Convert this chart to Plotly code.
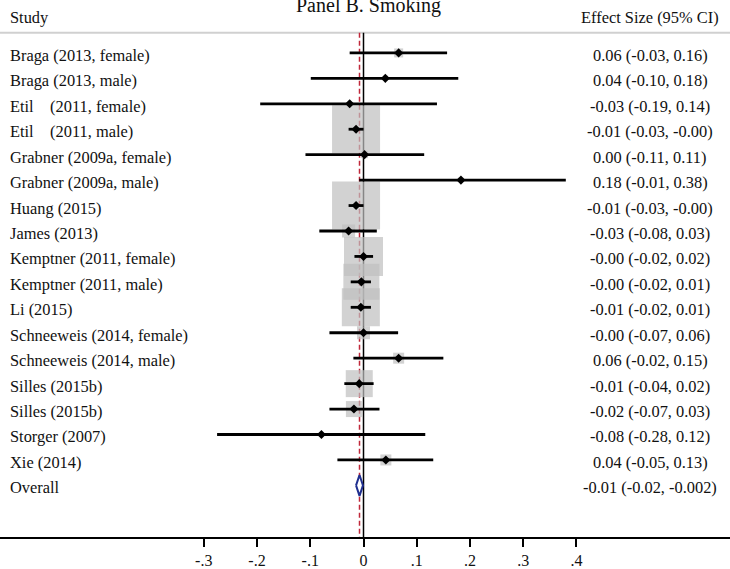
import plotly.graph_objects as go

# ---------------- data ----------------
studies = [
    "Braga (2013, female)", "Braga (2013, male)",
    "Etil\u00a0\u00a0\u00a0\u00a0(2011, female)", "Etil\u00a0\u00a0\u00a0\u00a0(2011, male)",
    "Grabner (2009a, female)", "Grabner (2009a, male)",
    "Huang (2015)", "James (2013)",
    "Kemptner (2011, female)", "Kemptner (2011, male)",
    "Li (2015)",
    "Schneeweis (2014, female)", "Schneeweis (2014, male)",
    "Silles (2015b)", "Silles (2015b)",
    "Storger (2007)", "Xie (2014)",
]
effect = [0.066, 0.041, -0.026, -0.014, 0.002, 0.183, -0.014, -0.028,
          0.000, -0.004, -0.005, 0.000, 0.066, -0.008, -0.018, -0.079, 0.042]
ci_low = [-0.026, -0.099, -0.194, -0.028, -0.109, -0.008, -0.028, -0.083,
          -0.017, -0.024, -0.024, -0.064, -0.019, -0.036, -0.064, -0.275, -0.049]
ci_high = [0.157, 0.178, 0.138, 0.000, 0.114, 0.380, 0.000, 0.025,
           0.018, 0.014, 0.014, 0.065, 0.150, 0.019, 0.030, 0.116, 0.131]
weights = [9, 5, 4, 48, 7, 5, 48, 13, 39, 36, 38, 13, 11, 27, 16, 3, 11]  # box size
es_text = [
    "0.06 (-0.03, 0.16)", "0.04 (-0.10, 0.18)", "-0.03 (-0.19, 0.14)",
    "-0.01 (-0.03, -0.00)", "0.00 (-0.11, 0.11)", "0.18 (-0.01, 0.38)",
    "-0.01 (-0.03, -0.00)", "-0.03 (-0.08, 0.03)", "-0.00 (-0.02, 0.02)",
    "-0.00 (-0.02, 0.01)", "-0.01 (-0.02, 0.01)", "-0.00 (-0.07, 0.06)",
    "0.06 (-0.02, 0.15)", "-0.01 (-0.04, 0.02)", "-0.02 (-0.07, 0.03)",
    "-0.08 (-0.28, 0.12)", "0.04 (-0.05, 0.13)",
]
overall_label = "Overall"
overall_effect = -0.0075
overall_low = -0.014
overall_high = -0.001
overall_text = "-0.01 (-0.02, -0.002)"

tick_vals = [-0.3, -0.2, -0.1, 0, 0.1, 0.2, 0.3, 0.4]
tick_text = ["-.3", "-.2", "-.1", "0", ".1", ".2", ".3", ".4"]

title_text = "Panel B. Smoking"
header_left = "Study"
header_right = "Effect Size (95% CI)"

# ---------------- figure ----------------
W, H = 730, 569
FONT = "Liberation Serif, Times New Roman, serif"
rows = list(range(len(studies)))
overall_row = len(studies)

row_px0 = 53.3
row_step = 25.63
axis_px = 541
text_shift = 2.5 / row_step   # text sits slightly lower than the marks


def px_to_row(p):
    return (p - row_px0) / row_step


fig = go.Figure()

# weight boxes
fig.add_trace(go.Scatter(
    x=effect, y=rows, mode="markers",
    marker=dict(symbol="square", size=weights, color="#bfbfbf",
                line=dict(width=0)),
    hoverinfo="skip", showlegend=False))

# confidence intervals
ci_x, ci_y = [], []
for lo, hi, r in zip(ci_low, ci_high, rows):
    ci_x += [lo, hi, None]
    ci_y += [r, r, None]
fig.add_trace(go.Scatter(
    x=ci_x, y=ci_y, mode="lines",
    line=dict(color="black", width=2.8),
    hoverinfo="skip", showlegend=False))

# point estimates
fig.add_trace(go.Scatter(
    x=effect, y=rows, mode="markers",
    marker=dict(symbol="diamond", size=7, color="black"),
    hoverinfo="skip", showlegend=False))

# overall diamond
dh = 10.5 / row_step
fig.add_trace(go.Scatter(
    x=[overall_low, overall_effect, overall_high, overall_effect, overall_low],
    y=[overall_row, overall_row - dh, overall_row, overall_row + dh, overall_row],
    mode="lines", fill="toself", fillcolor="white",
    line=dict(color="#1f2f8f", width=2),
    hoverinfo="skip", showlegend=False))

top_row = px_to_row(0)
bot_row = px_to_row(axis_px)
line_row = px_to_row(33)

shapes = [
    # header separator
    dict(type="line", xref="paper", yref="y", x0=0, x1=1, y0=line_row, y1=line_row,
         line=dict(color="#d0d0d0", width=2), layer="below"),
    # no-effect line
    dict(type="line", xref="x", yref="y", x0=0, x1=0, y0=line_row, y1=bot_row,
         line=dict(color="black", width=1.5), layer="below"),
    # overall effect line
    dict(type="line", xref="x", yref="y", x0=overall_effect, x1=overall_effect,
         y0=line_row, y1=bot_row,
         line=dict(color="#c0283a", width=1.5, dash="5px,3px"), layer="below"),
]

annotations = []
fsize = 16.4
for lab, txt, r in zip(studies + [overall_label], es_text + [overall_text],
                       rows + [overall_row]):
    annotations.append(dict(x=8 / W, xref="paper", y=r + text_shift, yref="y",
                            text=lab, xanchor="left", yanchor="middle",
                            showarrow=False,
                            font=dict(family=FONT, size=fsize, color="#111")))
    annotations.append(dict(x=650 / W, xref="paper", y=r + text_shift, yref="y",
                            text=txt, xanchor="center", yanchor="middle",
                            showarrow=False,
                            font=dict(family=FONT, size=fsize, color="#111")))

annotations.append(dict(x=8 / W, xref="paper", y=px_to_row(18), yref="y",
                        text=header_left, xanchor="left", yanchor="middle",
                        showarrow=False,
                        font=dict(family=FONT, size=fsize, color="#111")))
annotations.append(dict(x=650 / W, xref="paper", y=px_to_row(18), yref="y",
                        text=header_right, xanchor="center", yanchor="middle",
                        showarrow=False,
                        font=dict(family=FONT, size=fsize, color="#111")))
annotations.append(dict(x=368.5 / W, xref="paper", y=px_to_row(6), yref="y",
                        text=title_text, xanchor="center", yanchor="middle",
                        showarrow=False,
                        font=dict(family=FONT, size=20, color="#111")))

x0_px = 363.5
scale = 532.4
fig.update_layout(
    width=W, height=H,
    margin=dict(l=0, r=0, t=0, b=H - axis_px),
    paper_bgcolor="white", plot_bgcolor="white",
    showlegend=False,
    xaxis=dict(range=[-x0_px / scale, (W - x0_px) / scale],
               tickmode="array", tickvals=tick_vals, ticktext=tick_text,
               showline=True, linecolor="black", linewidth=2,
               ticks="outside", ticklen=8, tickwidth=1.5, tickcolor="black",
               showgrid=False, zeroline=False,
               tickfont=dict(family=FONT, size=16, color="#111")),
    yaxis=dict(range=[bot_row, top_row], visible=False, showgrid=False,
               zeroline=False),
    shapes=shapes, annotations=annotations,
)

fig.write_html("out.html")
